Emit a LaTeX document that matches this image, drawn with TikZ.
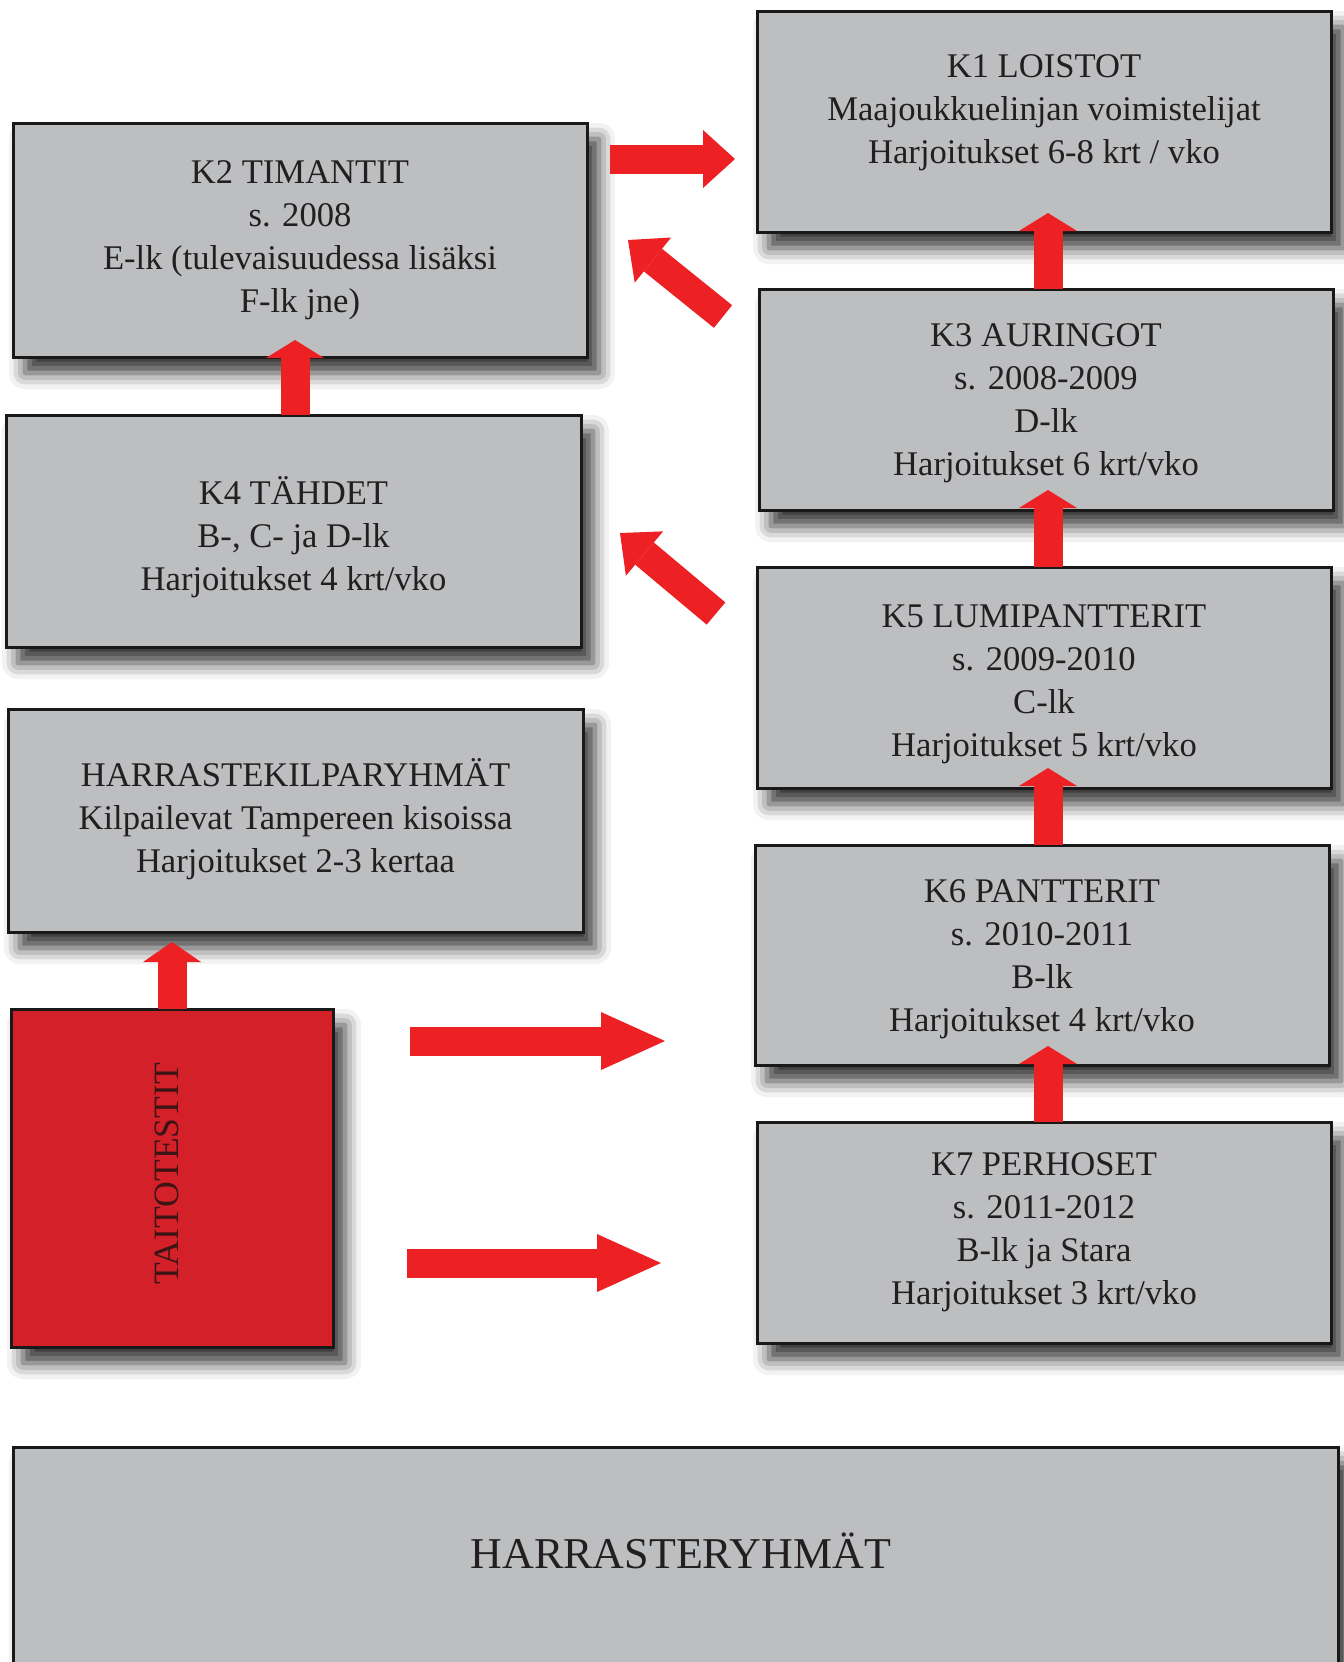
\documentclass[tikz,border=0pt]{standalone}
\usepackage{fontspec}
\setmainfont{Liberation Serif}
\usetikzlibrary{arrows.meta,calc,shadows.blur}
\definecolor{boxgray}{RGB}{188,190,192}
\definecolor{arrowred}{RGB}{237,32,36}
\definecolor{taitored}{RGB}{212,33,41}
\definecolor{txtcol}{RGB}{35,31,32}
\definecolor{taitotxt}{RGB}{60,20,22}
\tikzset{
  box/.style={draw=black!90, line width=1.5pt, fill=boxgray, inner sep=0pt, outer sep=0pt,
    blur shadow={shadow xshift=6pt, shadow yshift=-8pt, shadow blur radius=8pt, shadow opacity=80}},
  colbox/.style={box, minimum width=287pt, minimum height=110.5pt},
  boxtext/.style={align=center, text=txtcol, inner sep=0pt, font=\fontsize{17.3}{21.5}\selectfont},
  blockarrow/.style={draw=arrowred, line width=14.5pt, -{Triangle[width=29pt,length=#1,line width=0pt]}}
}
\begin{document}
\begin{tikzpicture}[x=0.5pt,y=-0.5pt]
\useasboundingbox (0,0) rectangle (1344,1662);
% boxes
\node[colbox] (k1) at (1044,121.5) {};
\node[colbox, minimum height=117pt] (k2) at (300,240) {};
\node[colbox] (k3) at (1046,399.5) {};
\node[colbox, minimum width=287.5pt, minimum height=116pt] (k4) at (293.5,531) {};
\node[colbox] (k5) at (1044,677.5) {};
\node[colbox, minimum width=287.5pt, minimum height=111.5pt] (hk) at (295.5,820.5) {};
\node[colbox, minimum height=110pt] (k6) at (1042,955) {};
\node[box, fill=taitored, minimum width=161pt, minimum height=169pt] (tt) at (172,1178) {};
\node[colbox] (k7) at (1044,1232.5) {};
\node[box, minimum width=662.5pt, minimum height=110.5pt] (hr) at (675.5,1557.5) {};
% texts
\node[boxtext] (k1t) at (1044,113) {K1 LOISTOT\\Maajoukkuelinjan voimistelijat\\Harjoitukset 6-8 krt / vko};
\node[boxtext] (k2t) at (300,240) {K2 TIMANTIT\\s. 2008\\E-lk (tulevaisuudessa lisäksi\\F-lk jne)};
\node[boxtext] (k3t) at (1046,403) {K3 AURINGOT\\s. 2008-2009\\D-lk\\Harjoitukset 6 krt/vko};
\node[boxtext] (k4t) at (293.5,537) {K4 TÄHDET\\B-, C- ja D-lk\\Harjoitukset 4 krt/vko};
\node[boxtext] (k5t) at (1044,684) {K5 LUMIPANTTERIT\\s. 2009-2010\\C-lk\\Harjoitukset 5 krt/vko};
\node[boxtext] (hkt) at (295.5,819.5) {HARRASTEKILPARYHMÄT\\Kilpailevat Tampereen kisoissa\\Harjoitukset 2-3 kertaa};
\node[boxtext] (k6t) at (1042,959) {K6 PANTTERIT\\s. 2010-2011\\B-lk\\Harjoitukset 4 krt/vko};
\node[rotate=90, inner sep=0pt, text=taitotxt, font=\fontsize{17.8}{20}\selectfont] (ttt) at (167,1174) {TAITOTESTIT};
\node[boxtext] (k7t) at (1044,1232.5) {K7 PERHOSET\\s. 2011-2012\\B-lk ja Stara\\Harjoitukset 3 krt/vko};
\node[boxtext, font=\fontsize{22}{26}\selectfont] (hrt) at (681,1551) {HARRASTERYHMÄT};
% arrows
\draw[blockarrow=16pt] ($(k2.north east)+(23,36)$) -- ($(k1.west)+(-22,37.5)$);
\draw[blockarrow=16pt] ($(k3.north west)+(-36,27.5)$) -- ($(k2.east)+(41,0)$);
\draw[blockarrow=16pt] ($(k5.north west)+(-41,46.5)$) -- ($(k4.east)+(39,2)$);
\draw[blockarrow=9pt] ($(k4.north)+(1.5,0)$) -- ($(k2.south)+(-5,-17)$);
\draw[blockarrow=9pt] ($(k3.north)+(2,0)$) -- ($(k1.south)+(4,-19)$);
\draw[blockarrow=9pt] ($(k5.north)+(4,0)$) -- ($(k3.south)+(2,-20)$);
\draw[blockarrow=9pt] ($(k6.north)+(6,0)$) -- ($(k5.south)+(4,-20)$);
\draw[blockarrow=9pt] ($(k7.north)+(4,0)$) -- ($(k6.south)+(6,-19)$);
\draw[blockarrow=10pt] ($(tt.north)+(0,0)$) -- ($(hk.south)+(-123.5,10)$);
\draw[blockarrow=32pt] ($(tt.east)+(77,-137)$) -- ($(k6.west)+(-90,86)$);
\draw[blockarrow=32pt] ($(tt.east)+(74,85)$) -- ($(k7.west)+(-96,30.5)$);
\end{tikzpicture}
\end{document}
